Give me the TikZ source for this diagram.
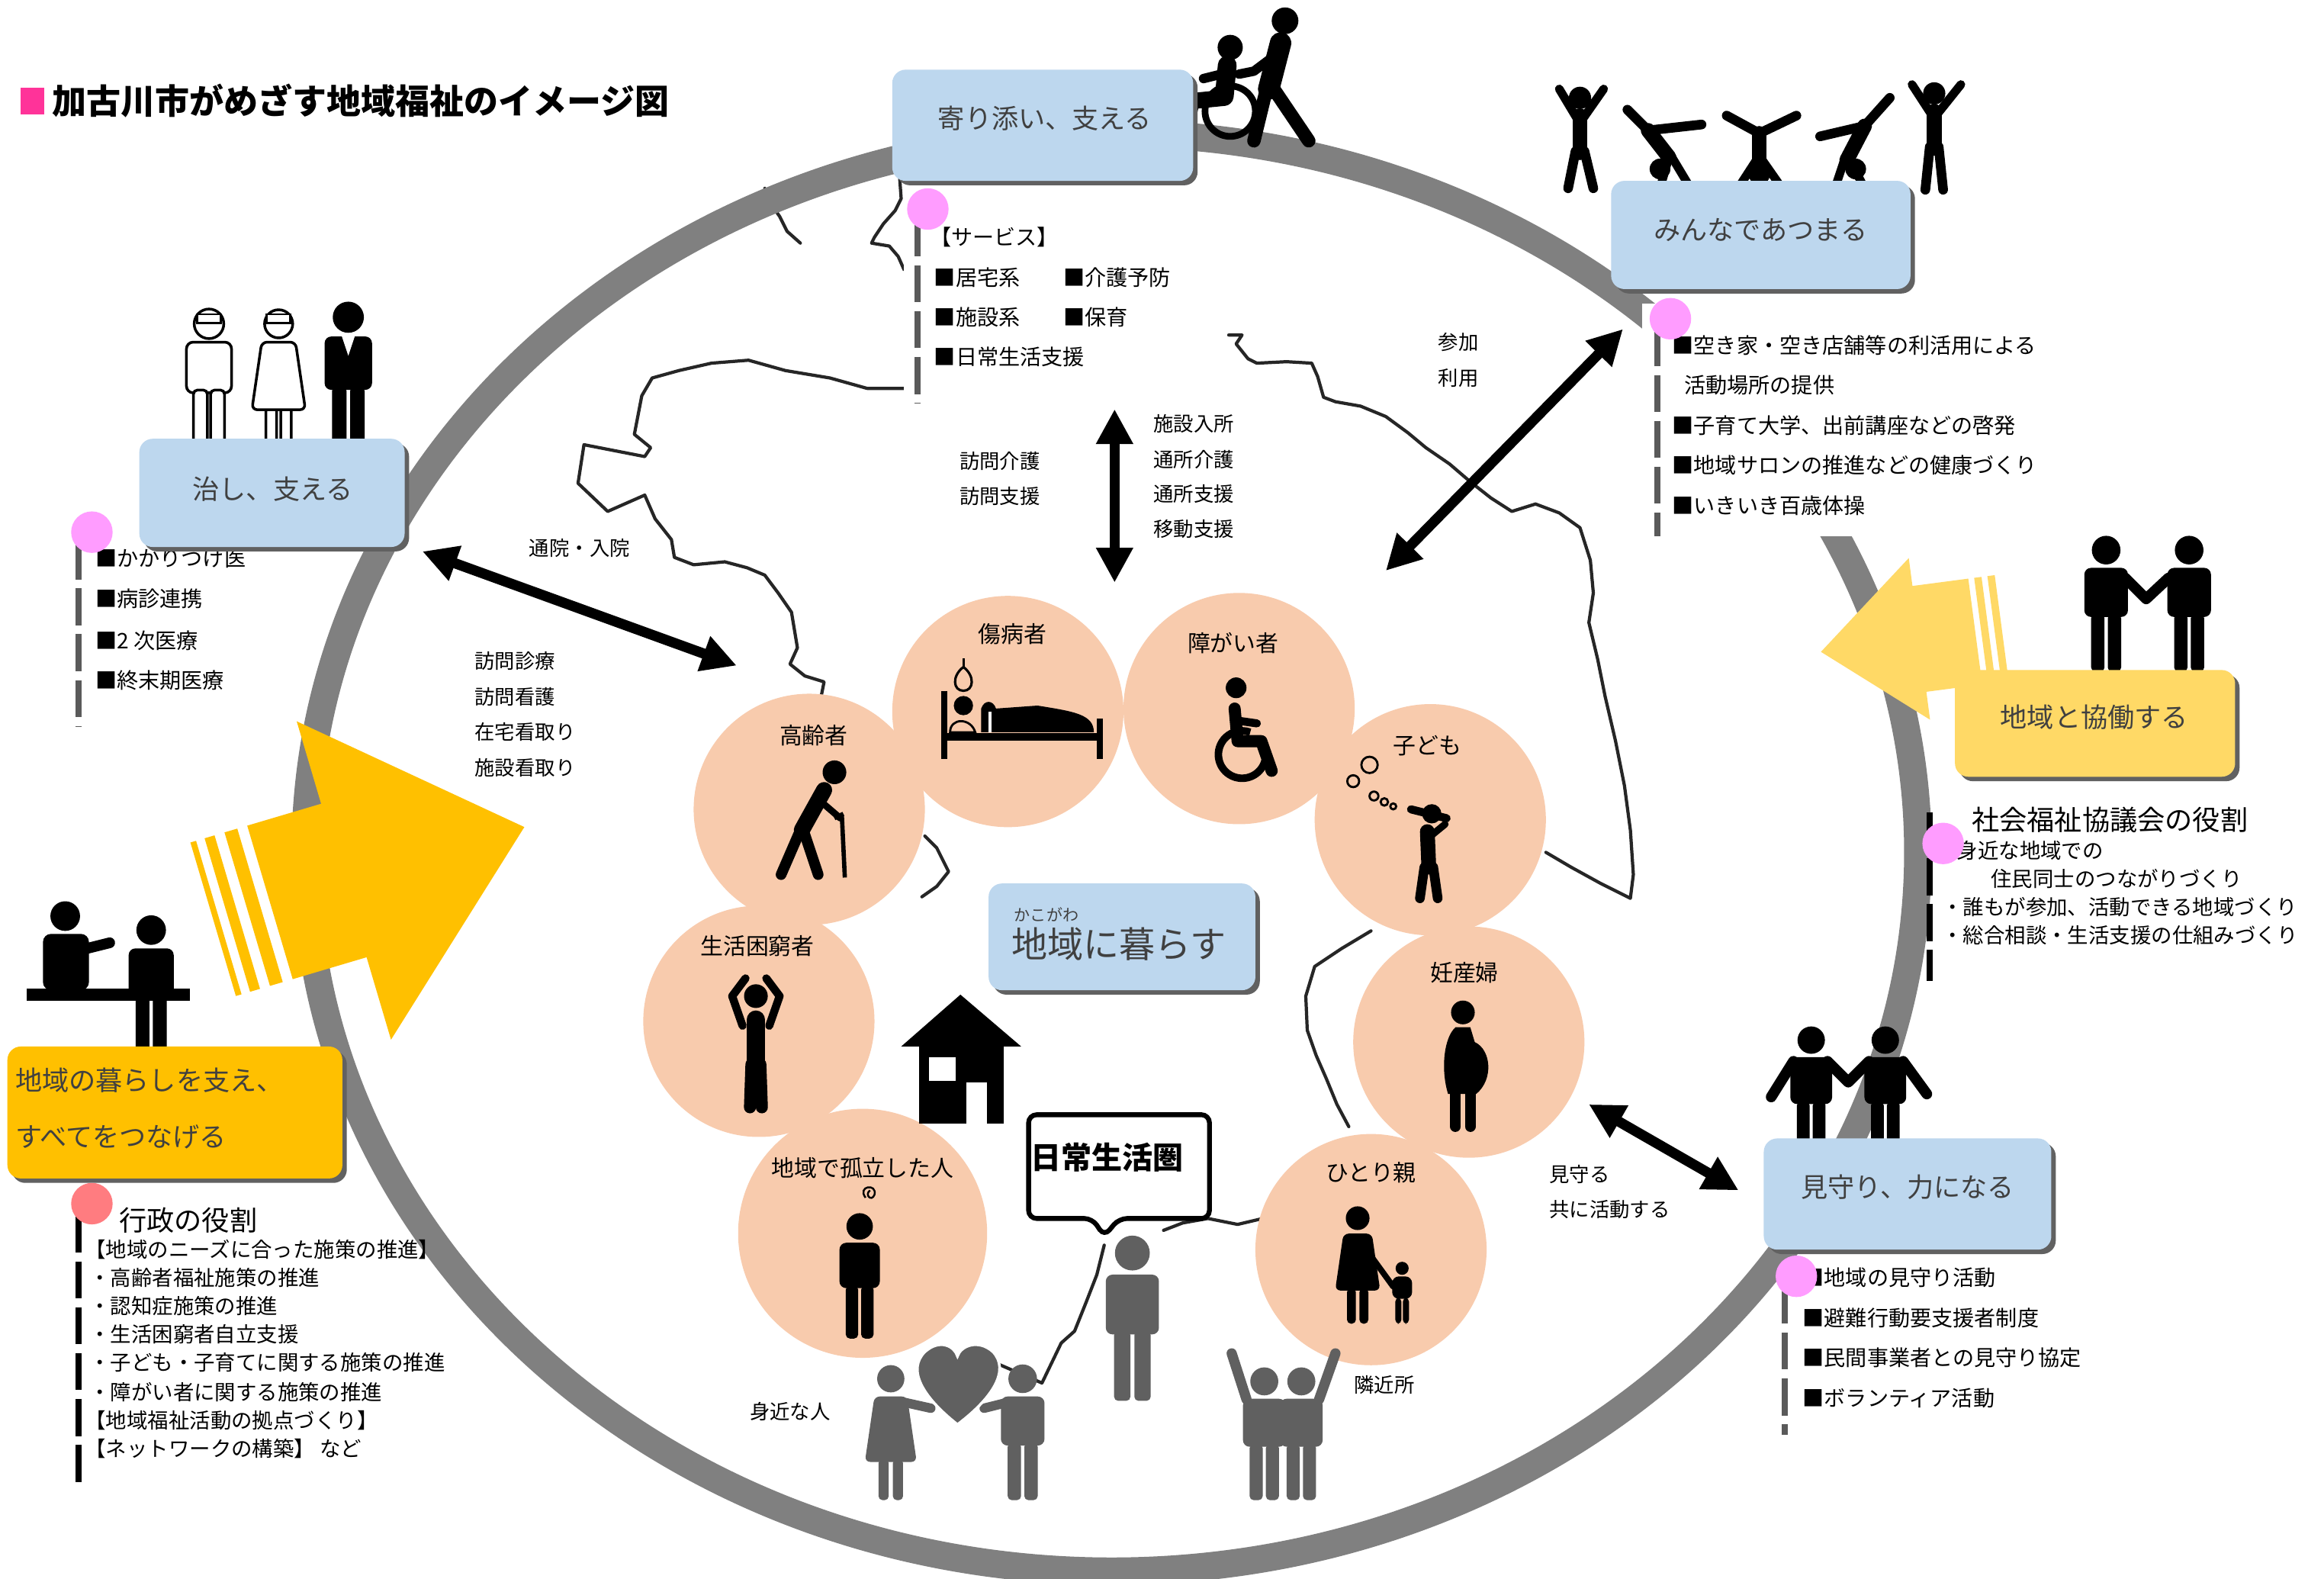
\documentclass[tikz,border=0pt]{standalone}
\usepackage{fontspec}
\setmainfont{Noto Sans CJK JP}
\usetikzlibrary{arrows.meta}

\definecolor{boxblue}{HTML}{BDD7EE}
\definecolor{ringgray}{HTML}{808080}
\definecolor{peach}{HTML}{F8CBAD}
\definecolor{gold}{HTML}{FFC000}
\definecolor{lightgold}{HTML}{FFD966}
\definecolor{dotpink}{HTML}{FF9CFF}
\definecolor{dotred}{HTML}{FF7C80}
\definecolor{titlepink}{HTML}{FF3399}
\definecolor{bargray}{HTML}{5A5A5A}
\definecolor{figgray}{HTML}{606060}
\definecolor{txtgray}{HTML}{404040}

\newcommand\jsz[1]{\fontsize{#1pt}{#1pt}\selectfont}

\tikzset{
  pics/man/.style={code={
    \path[pic actions] (0,-89) circle (10.5);
    \path[pic actions, rounded corners=2.5pt] (-16,-76) -- (16,-76) -- (16,-40) -- (-16,-40) -- cycle;
    \path[pic actions, rounded corners=1.5pt] (-11,-42) rectangle (-1.2,0);
    \path[pic actions, rounded corners=1.5pt] (1.2,-42) rectangle (11,0);
  }},
  pics/woman/.style={code={
    \path[pic actions] (0,-89) circle (10);
    \path[pic actions, rounded corners=1.5pt] (-9,-30) rectangle (-1.5,0);
    \path[pic actions, rounded corners=1.5pt] (1.5,-30) rectangle (9,0);
    \path[pic actions, rounded corners=2pt] (-12,-76) -- (12,-76) -- (19,-28) -- (-19,-28) -- cycle;
  }},
  boxtxt/.style={font=\jsz{10}, text=txtgray},
  lst/.style={anchor=west, font=\jsz{8}},
  lbl/.style={font=\jsz{7.5}},
  clbl/.style={font=\jsz{8.5}},
  dbl/.style={line width=3.8pt, {Triangle[length=13pt,width=13pt]}-{Triangle[length=13pt,width=13pt]}},
  bar/.style={line width=2.3pt, dash pattern=on 13.8pt off 3.3pt},
  mapline/.style={line width=1.2pt, line join=round, line cap=round, black!85},
  limb/.style={line cap=round, line join=round},
  shadowbox/.style={fill=black!62, rounded corners=5pt},
  bluebox/.style={fill=boxblue, rounded corners=5pt},
}

\begin{document}
\begin{tikzpicture}[x=0.019432cm, y=-0.019432cm, every node/.style={inner sep=0pt}]
\fill[white] (0,0) rectangle (1568,1065);
\useasboundingbox (0,0) rectangle (1568,1065);

% ---------- title ----------
\fill[titlepink] (14,59) rectangle (30,77);
\node[anchor=west, font=\jsz{12.8}\bfseries] (title) at (35,68) {加古川市がめざす地域福祉のイメージ図};

% ---------- city outline ----------
\draw[mapline] (516,127) -- (519,136) -- (526,146) -- (531,156) -- (540,164);
\draw[mapline] (592,106) -- (600,108) -- (607,120) -- (608,134) -- (604,142) -- (596,151) -- (590,160) -- (588,164) -- (600,166) -- (606,173) -- (610,182) -- (618,180) -- (626,178);
\draw[mapline] (612,262) -- (585,262) -- (560,255) -- (530,250) -- (505,243) -- (480,245) -- (458,250) -- (440,255) -- (433,267)
  -- (428,293) -- (439,302) -- (435,308) -- (394,300) -- (390,326) -- (410,345) -- (435,334) -- (442,350) -- (453,364) -- (455,376)
  -- (468,381) -- (489,379) -- (504,383) -- (516,388) -- (525,400) -- (534,413) -- (538,437) -- (533,448) -- (543,456) -- (556,460) -- (554,470);
\draw[mapline] (829,226) -- (838,226) -- (834,232) -- (842,242) -- (848,245) -- (868,244) -- (885,245) -- (889,254) -- (893,268) -- (901,271)
  -- (918,274) -- (935,281) -- (950,292) -- (962,302) -- (978,313) -- (992,325) -- (1006,336) -- (1020,345) -- (1036,340) -- (1052,346)
  -- (1066,356) -- (1073,378) -- (1075,400) -- (1072,420) -- (1078,445) -- (1083,470) -- (1090,500) -- (1096,530) -- (1100,560)
  -- (1102,590) -- (1100,606) -- (1080,596) -- (1060,585) -- (1043,575);
\draw[mapline] (925,628) -- (905,640) -- (887,652) -- (881,672) -- (882,695) -- (888,712) -- (895,728) -- (902,745) -- (910,760);
\draw[mapline] (852,822) -- (835,826) -- (815,822) -- (798,825) -- (785,830);
\draw[mapline] (745,840) -- (740,860) -- (733,878) -- (725,898) -- (716,906) -- (703,933) -- (673,920);
\draw[mapline] (624,564) -- (632,572) -- (640,588) -- (632,598) -- (622,605);

% ---------- the big ring ----------
\draw[ringgray, line width=10.3pt] (750,575) ellipse [x radius=544, y radius=485];

% ---------- list panels (white, over the ring and outline) ----------
\fill[white] (610,148) rectangle (805,272);
\fill[white] (1108,205) rectangle (1395,362);

% ---------- double arrows ----------
\coordinate (hospL) at (285,372);  \coordinate (hospR) at (497,449);
\coordinate (careT) at (752,276);  \coordinate (careB) at (752,393);
\coordinate (joinA) at (935,385);  \coordinate (joinB) at (1095,222);
\coordinate (watchA) at (1072,745); \coordinate (watchB) at (1173,803);
\draw[dbl] (hospL) -- (hospR);
\draw[dbl] (careT) -- (careB);
\draw[dbl] (joinA) -- (joinB);
\draw[dbl] (watchA) -- (watchB);

% ---------- yellow striped arrows ----------
\begin{scope}[shift={(232,594)}, rotate=16.5]
  \fill[gold] (0,-112) -- (127,0) -- (0,112) -- cycle;
  \fill[gold] (-52,-54) rectangle (1,54);
  \fill[gold] (-68,-54) rectangle (-59,54);
  \fill[gold] (-82,-54) rectangle (-75,54);
  \fill[gold] (-92,-54) rectangle (-88,54);
\end{scope}
\begin{scope}[shift={(1295,431)}, rotate=187.5]
  \fill[lightgold] (0,-55) -- (67,0) -- (0,55) -- cycle;
  \fill[lightgold] (-38,-36) rectangle (1,36);
  \fill[lightgold] (-47,-36) rectangle (-42,36);
  \fill[lightgold] (-56,-36) rectangle (-51,36);
\end{scope}

% ---------- people circles ----------
\fill[peach] (680,480) circle (78);
\fill[peach] (836,478) circle (78);
\fill[peach] (546,546) circle (78);
\fill[peach] (965,553) circle (78);
\fill[peach] (512,689) circle (78);
\fill[peach] (991,703) circle (78);
\fill[peach] (582,832) circle (84);
\fill[peach] (925,843) circle (78);

\node[clbl] (cInjured) at (683,428) {傷病者};
\node[clbl] (cDisab) at (832,434) {障がい者};
\node[clbl] (cElder) at (549,496) {高齢者};
\node[clbl] (cChild) at (963,503) {子ども};
\node[clbl] (cPoor) at (511,638) {生活困窮者};
\node[clbl] (cPreg) at (988,656) {妊産婦};
\node[clbl] (cIsol) at (582,788) {地域で孤立した人};
\node[clbl] (cSingle) at (925,791) {ひとり親};

% injured: bed and patient
\draw[line width=2.4pt] (637,466) -- (637,512);
\draw[line width=2.4pt] (742,485) -- (742,512);
\draw[line width=3pt] (637,497) -- (742,497);
\fill (650,476) circle (6.5);
\draw[line width=0.8pt] (641,494) .. controls (641,484) and (655,484) .. (658,494) -- cycle;
\fill (662,494) -- (662,478) .. controls (664,472) and (670,472) .. (672,478) -- (700,476) .. controls (725,480) and (738,482) .. (738,494) -- cycle;
\draw[white, line width=1pt] (668,480) -- (668,494);
\draw[line width=0.9pt] (650,450) -- (650,444);
\draw[line width=0.9pt] (650,450) .. controls (642,456) and (643,466) .. (650,466) .. controls (657,466) and (658,456) .. (650,450);

% wheelchair user
\fill (834,464) circle (7);
\draw[limb, line width=4.5pt] (833,478) -- (835,500) -- (851,500) -- (858,520);
\draw[limb, line width=3pt] (834,486) -- (848,488);
\draw[line width=2.8pt] (853.8,511.8) arc[start angle=10, end angle=290, radius=16];

% elderly with cane
\fill (563,521) circle (8);
\draw[limb, line width=6pt] (556,533) -- (541,560);
\draw[limb, line width=4pt] (540,560) -- (527,590);
\draw[limb, line width=4pt] (542,560) -- (552,590);
\draw[limb, line width=2.5pt] (553,540) -- (567,552);
\draw[line width=1.6pt] (568,550) -- (570,592);
\draw[line width=1.6pt] (563,552) -- (569,549);

% child with telescope and bubbles
\draw[line width=0.8pt] (924,516) circle (5.5);
\draw[line width=0.8pt] (913,527) circle (4);
\draw[line width=0.8pt] (927,537) circle (3);
\draw[line width=0.8pt] (934,541) circle (2.5);
\draw[line width=0.8pt] (940,544) circle (2);
\fill (966,549) circle (6.5);
\draw[limb, line width=5.5pt] (963,561) -- (964,585);
\draw[limb, line width=3.6pt] (961,585) -- (958,606);
\draw[limb, line width=3.6pt] (967,585) -- (970,606);
\draw[limb, line width=2.6pt] (964,565) -- (975,556);
\draw[limb, line width=3pt] (952,546) -- (976,552);

% person holding head
\fill (510,672) circle (8);
\draw[limb, line width=3pt] (501,692) -- (494,672) -- (503,660);
\draw[limb, line width=3pt] (519,692) -- (526,672) -- (517,660);
\draw[limb, line width=7pt] (510,688) -- (510,720);
\draw[limb, line width=4.5pt] (507,718) -- (506,747);
\draw[limb, line width=4.5pt] (513,718) -- (514,747);

% pregnant woman
\fill (987,683) circle (8);
\fill (982,693) .. controls (974,700) and (972,722) .. (977,738) -- (996,738) .. controls (1008,728) and (1006,708) .. (995,703) -- (992,693) -- cycle;
\draw[limb, line width=4pt] (982,737) -- (982,760);
\draw[limb, line width=4pt] (992,737) -- (992,760);

% isolated person
\pic[fill=black, scale=0.85] at (580,903) {man};
\draw[line width=0.7pt] (584,808) .. controls (578,800) and (592,798) .. (590,806) .. controls (588,811) and (583,806) .. (587,803);

% single parent and child
\pic[fill=black, scale=0.8] at (916,893) {woman};
\pic[fill=black, scale=0.42] at (946,893) {man};
\draw[limb, line width=2.2pt] (924,846) -- (940,868);

% ---------- house ----------
\fill (608,706) -- (648,671) -- (689,706) -- cycle;
\fill (620,704) rectangle (677,758);
\fill[white] (627,713) rectangle (645,729);
\fill[white] (652,730) rectangle (666,758);

% ---------- speech bubble ----------
\draw[line width=1.8pt, fill=white, rounded corners=3pt] (694,752) -- (816,752) -- (816,822) -- (755,822) -- (745,834) -- (737,822) -- (694,822) -- cycle;
\node[font=\jsz{11.4}\bfseries] (bubble) at (747,781) {日常生活圏};

% ---------- gray neighbourhood figures ----------
\begin{scope}[figgray]
  \pic[fill=figgray, scale=0.92] at (601,1012) {woman};
  \pic[fill=figgray, scale=0.92] at (690,1012) {man};
  \draw[limb, line width=3.5pt] (610,946) -- (628,950);
  \draw[limb, line width=3.5pt] (680,946) -- (664,950);
  \fill[draw=white, line width=1pt] (646,961) .. controls (622,942) and (612,924) .. (624,912) .. controls (634,903) and (644,908) .. (646,915) .. controls (648,908) and (660,903) .. (670,912) .. controls (681,924) and (671,942) .. (646,961) -- cycle;
  \pic[fill=figgray, scale=1.12] at (764,945) {man};
  \pic[fill=figgray, scale=0.9] at (853,1012) {man};
  \pic[fill=figgray, scale=0.9] at (878,1012) {man};
  \draw[limb, line width=3.8pt] (841,944) -- (831,913);
  \draw[limb, line width=3.8pt] (890,944) -- (901,913);
\end{scope}

% ---------- top: wheelchair and helper ----------
\fill (830,32) circle (8.5);
\draw[limb, line width=7pt] (828,44) -- (826,65);
\draw[limb, line width=6pt] (826,66) -- (806,68);
\draw[limb, line width=5pt] (805,68) -- (800,90);
\draw[limb, line width=3.5pt] (828,49) -- (812,53);
\draw[line width=2.5pt] (830,75) circle (17);
\fill (867,14) circle (9);
\draw[limb, line width=8pt] (864,29) -- (856,60);
\draw[limb, line width=5pt] (855,58) -- (846,95);
\draw[limb, line width=5pt] (858,58) -- (883,95);
\draw[limb, line width=3.5pt] (862,36) -- (846,48) -- (836,50);

% ---------- top right: moving people ----------
\begin{scope}[limb]
  \fill (1066,66) circle (7.5);
  \draw[line width=5.5pt] (1066,78) -- (1066,103);
  \draw[line width=3.2pt] (1064,80) -- (1052,60);
  \draw[line width=3.2pt] (1068,80) -- (1082,60);
  \draw[line width=3.6pt] (1063,102) -- (1058,127);
  \draw[line width=3.6pt] (1069,102) -- (1075,127);

  \draw[line width=3.6pt] (1112,88) -- (1098,74);
  \draw[line width=3.6pt] (1112,88) -- (1148,84);
  \draw[line width=5.5pt] (1112,88) -- (1126,106);
  \fill (1120,114) circle (7);
  \draw[line width=3.2pt] (1126,106) -- (1120,127);
  \draw[line width=3.2pt] (1128,106) -- (1140,126);

  \draw[line width=3.6pt] (1187,90) -- (1165,78);
  \draw[line width=3.6pt] (1187,90) -- (1212,78);
  \draw[line width=5.5pt] (1187,90) -- (1187,108);
  \fill (1187,118) circle (7);
  \draw[line width=3.2pt] (1185,108) -- (1172,128);
  \draw[line width=3.2pt] (1189,108) -- (1203,128);

  \draw[line width=3.6pt] (1258,85) -- (1275,66);
  \draw[line width=3.6pt] (1258,85) -- (1228,92);
  \draw[line width=5.5pt] (1258,85) -- (1246,108);
  \fill (1252,114) circle (7);
  \draw[line width=3.2pt] (1245,106) -- (1238,127);
  \draw[line width=3.2pt] (1247,106) -- (1258,127);

  \fill (1305,63) circle (7.5);
  \draw[line width=5.5pt] (1305,75) -- (1305,100);
  \draw[line width=3.2pt] (1303,77) -- (1290,57);
  \draw[line width=3.2pt] (1307,77) -- (1323,57);
  \draw[line width=3.6pt] (1302,99) -- (1299,128);
  \draw[line width=3.6pt] (1308,99) -- (1311,128);
\end{scope}

% ---------- medical staff ----------
\pic[fill=white, draw=black, line width=1pt, scale=0.95] at (141,303) {man};
\fill[white, draw=black, line width=0.8pt] (133,212) rectangle (149,218);
\pic[fill=white, draw=black, line width=1pt, scale=0.95] at (188,303) {woman};
\fill[white, draw=black, line width=0.8pt] (180,212) rectangle (196,218);
\pic[fill=black, scale=1.0] at (235,303) {man};
\fill[white] (230,225) -- (240,225) -- (235,240) -- cycle;

% ---------- handshake ----------
\pic[fill=black, scale=0.92] at (1421,453) {man};
\pic[fill=black, scale=0.92] at (1477,453) {man};
\draw[limb, line width=4pt] (1434,390) -- (1448,404) -- (1463,390);

% ---------- reception ----------
\fill (44,618) circle (10);
\fill[rounded corners=3pt] (29,630) rectangle (60,668);
\draw[limb, line width=4pt] (58,640) -- (74,636);
\fill (18,667) rectangle (128,675);
\pic[fill=black, scale=0.95] at (102,712) {man};

% ---------- holding hands ----------
\pic[fill=black, scale=0.88] at (1222,780) {man};
\pic[fill=black, scale=0.88] at (1272,780) {man};
\draw[limb, line width=4pt] (1233,716) -- (1247,730) -- (1261,716);
\draw[limb, line width=4pt] (1210,716) -- (1195,740);
\draw[limb, line width=4pt] (1284,716) -- (1300,738);

% ---------- medical list (partly under its box) ----------
\draw[bar, bargray] (53,366) -- (53,490);
\node[lst] (n1) at (64,377) {■かかりつけ医};
\node[lst] (n2) at (64,404) {■病診連携};
\node[lst] (n3) at (64,432) {■2 次医療};
\node[lst] (n4) at (64,459) {■終末期医療};
\fill[dotpink] (62,359) circle (14);

% ---------- boxes ----------
\fill[shadowbox] (605,50) rectangle (808,125);
\fill[bluebox] (602,47) rectangle (805,122);
\node[boxtxt] (tYori) at (705,80) {寄り添い、支える};

\fill[shadowbox] (1090,125) rectangle (1292,198);
\fill[bluebox] (1087,122) rectangle (1289,195);
\node[boxtxt] (tMinna) at (1188,155) {みんなであつまる};

\fill[shadowbox] (97,299) rectangle (276,372);
\fill[bluebox] (94,296) rectangle (273,369);
\node[boxtxt] (tNaoshi) at (184,330) {治し、支える};

\fill[shadowbox] (670,599) rectangle (850,671);
\fill[bluebox] (667,596) rectangle (847,668);
\node[anchor=west, font=\jsz{6}, text=txtgray] (tRuby) at (684,617) {かこがわ};
\node[anchor=west, font=\jsz{13.4}, text=txtgray] (tKurasu) at (682,637) {地域に暮らす};

\fill[shadowbox] (1193,771) rectangle (1387,846);
\fill[bluebox] (1190,768) rectangle (1384,843);
\node[boxtxt] (tMimamori) at (1287,801) {見守り、力になる};

\fill[shadowbox] (1322,455) rectangle (1511,527);
\fill[lightgold, rounded corners=5pt] (1319,452) rectangle (1508,524);
\node[boxtxt] (tKyodo) at (1413,484) {地域と協働する};

\fill[shadowbox] (8,709) rectangle (234,798);
\fill[gold, rounded corners=5pt] (5,706) rectangle (231,795);
\node[boxtxt, anchor=west] (tKurashi1) at (10,729) {地域の暮らしを支え、};
\node[boxtxt, anchor=west] (tKurashi2) at (10,767) {すべてをつなげる};

% ---------- arrow labels ----------
\node[lbl] (lHosp) at (391,370) {通院・入院};
\node[lbl, anchor=west] (lV1) at (320,446) {訪問診療};
\node[lbl, anchor=west] (lV2) at (320,470) {訪問看護};
\node[lbl, anchor=west] (lV3) at (320,494) {在宅看取り};
\node[lbl, anchor=west] (lV4) at (320,518) {施設看取り};
\node[lbl, anchor=west] (lH1) at (647,311) {訪問介護};
\node[lbl, anchor=west] (lH2) at (647,335) {訪問支援};
\node[lbl, anchor=west] (lF1) at (778,286) {施設入所};
\node[lbl, anchor=west] (lF2) at (778,310) {通所介護};
\node[lbl, anchor=west] (lF3) at (778,333) {通所支援};
\node[lbl, anchor=west] (lF4) at (778,357) {移動支援};
\node[lbl] (lJoin1) at (984,231) {参加};
\node[lbl] (lJoin2) at (984,255) {利用};
\node[lbl, anchor=west] (lW1) at (1045,792) {見守る};
\node[lbl, anchor=west] (lW2) at (1045,816) {共に活動する};
\node[lbl] (lClose) at (533,952) {身近な人};
\node[lbl] (lNeigh) at (934,934) {隣近所};

% ---------- service list ----------
\draw[bar, bargray] (619,148) -- (619,272);
\node[lst] (s0) at (627,160) {【サービス】};
\node[lst] (s1) at (630,187) {■居宅系};
\node[lst] (s2) at (717,187) {■介護予防};
\node[lst] (s3) at (630,214) {■施設系};
\node[lst] (s4) at (717,214) {■保育};
\node[lst] (s5) at (630,241) {■日常生活支援};
\fill[dotpink] (626,141) circle (14);

% ---------- gathering list ----------
\draw[bar, bargray] (1118,222) -- (1118,362);
\node[lst] (m1) at (1128,233) {■空き家・空き店舗等の利活用による};
\node[lst] (m2) at (1136,260) {活動場所の提供};
\node[lst] (m3) at (1128,287) {■子育て大学、出前講座などの啓発};
\node[lst] (m4) at (1128,314) {■地域サロンの推進などの健康づくり};
\node[lst] (m5) at (1128,341) {■いきいき百歳体操};
\fill[dotpink] (1127,215) circle (14);

% ---------- council list ----------
\draw[bar, black] (1302,548) -- (1302,662);
\node[anchor=west, font=\jsz{10.3}] (k0) at (1330,553) {社会福祉協議会の役割};
\node[anchor=west, font=\jsz{7.8}] (k1) at (1320,574) {身近な地域での};
\node[anchor=west, font=\jsz{7.8}] (k2) at (1343,593) {住民同士のつながりづくり};
\node[anchor=west, font=\jsz{7.8}] (k3) at (1310,612) {・誰もが参加、活動できる地域づくり};
\node[anchor=west, font=\jsz{7.8}] (k4) at (1310,631) {・総合相談・生活支援の仕組みづくり};
\fill[dotpink] (1311,569) circle (14);

% ---------- administration list ----------
\draw[bar, black] (53,820) -- (53,1000);
\node[anchor=west, font=\jsz{10.3}] (g0) at (80,823) {行政の役割};
\node[anchor=west, font=\jsz{7.8}] (g1) at (57,843) {【地域のニーズに合った施策の推進】};
\node[anchor=west, font=\jsz{7.8}] (g2) at (60,862) {・高齢者福祉施策の推進};
\node[anchor=west, font=\jsz{7.8}] (g3) at (60,881) {・認知症施策の推進};
\node[anchor=west, font=\jsz{7.8}] (g4) at (60,900) {・生活困窮者自立支援};
\node[anchor=west, font=\jsz{7.8}] (g5) at (60,919) {・子ども・子育てに関する施策の推進};
\node[anchor=west, font=\jsz{7.8}] (g6) at (60,939) {・障がい者に関する施策の推進};
\node[anchor=west, font=\jsz{7.8}] (g7) at (57,958) {【地域福祉活動の拠点づくり】};
\node[anchor=west, font=\jsz{7.8}] (g8) at (57,977) {【ネットワークの構築】\ など};
\fill[dotred] (62,812) circle (14);

% ---------- watching list ----------
\draw[bar, bargray] (1204,868) -- (1204,968);
\node[lst] (w1) at (1216,862) {■地域の見守り活動};
\node[lst] (w2) at (1216,889) {■避難行動要支援者制度};
\node[lst] (w3) at (1216,916) {■民間事業者との見守り協定};
\node[lst] (w4) at (1216,943) {■ボランティア活動};
\fill[dotpink] (1212,861) circle (14);

\end{tikzpicture}
\end{document}
